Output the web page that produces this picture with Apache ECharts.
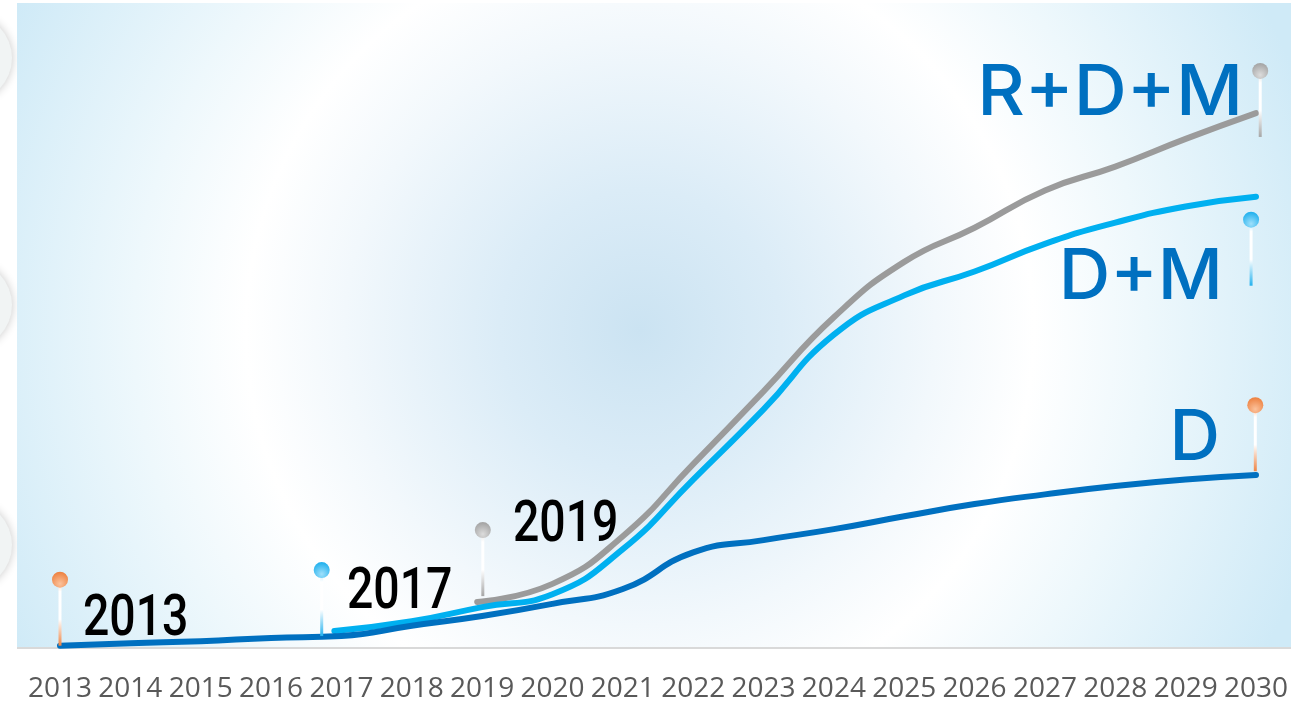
<!DOCTYPE html>
<html><head><meta charset="utf-8">
<script src="https://cdn.jsdelivr.net/npm/echarts@6/dist/echarts.min.js"></script>
<style>html,body{margin:0;padding:0;background:#fff;overflow:hidden}#c{width:1305px;height:703px}</style>
</head><body><div id="c"></div>
<script>
// ---- data ----
const years = [2013,2014,2015,2016,2017,2018,2019,2020,2021,2022,2023,2024,2025,2026,2027,2028,2029,2030];
const dValues = [0.2,0.6,0.9,1.4,1.7,3.3,4.8,6.7,9.0,14.7,16.6,18.3,20.3,22.2,23.7,25.0,26.0,26.7];
const dmYears = [2016.9,2018,2019,2020,2021,2022,2023,2024,2025,2026,2027,2028,2029,2030];
const dmValues = [2.5,4.0,6.2,8.2,15.2,26.0,36.9,48.5,54.6,58.3,62.6,65.9,68.4,69.9];
const rdmYears = [2018.93,2020,2021,2022,2023,2024,2025,2026,2027,2028,2029,2030];
const rdmValues = [7.0,9.8,17.2,28.4,39.7,51.2,59.8,65.1,70.9,74.6,78.9,82.9];
const pinYears = [2013,2016.72,2019.01,2030.06,2029.93,2029.99];
const pinValues = [0.2,1.7,7.9,79.2,56.1,27.3];
const pinKinds = ['orange','blue','gray','gray','blue','orange'];
const yearLabels = ['2013','2017','2019'];
const seriesLabels = ['R+D+M','D+M','D'];

// ---- styles ----
const pinColors = {
  orange: {main:'#ee8444', light:'#fbc29c'},
  blue:   {main:'#25b2ee', light:'#9fe0fb'},
  gray:   {main:'#a6a6a6', light:'#dcdcdc'}
};
const zip = (xs, ys) => xs.map((x,i)=>[x, ys[i]]);

const chart = echarts.init(document.getElementById('c'));
const bigNum = '500 58px Roboto, sans-serif';
const bigTxt = '500 70px Inter, "Open Sans", sans-serif';
function shadowCircle(cy){
  return {type:'circle', shape:{cx:-32, cy:cy, r:44}, style:{fill:'#f1f4f4', shadowBlur:10, shadowColor:'rgba(0,0,0,0.22)'}, z:-10};
}
function numText(txt, x, y){
  return {type:'text', x:x, y:y, scaleX:0.8, z:10, style:{text:txt, font:bigNum, fill:'#000', align:'left', verticalAlign:'middle'}};
}
function serText(txt, x, y, sx){
  return {type:'text', x:x, y:y, scaleX:sx, z:10, style:{text:txt, font:bigTxt, fill:'#0070c0', align:'right', verticalAlign:'middle'}};
}
chart.setOption({
  animation:false,
  graphic:[
    shadowCircle(58), shadowCircle(305), shadowCircle(545),
    {type:'rect', shape:{x:17,y:3,width:1274,height:645}, z:-5,
     style:{fill:{type:'radial', x:0.489, y:0.507, r:1.09, colorStops:[
       {offset:0, color:'#cbe3f2'},{offset:0.2, color:'#dbecf7'},{offset:0.42, color:'#f2f8fc'},
       {offset:0.56, color:'#ffffff'},{offset:0.72, color:'#eef8fc'},{offset:1, color:'#cfeaf7'}]}}},
    {type:'line', shape:{x1:17,y1:648,x2:1291,y2:648}, z:-4, style:{stroke:'#d9d9d9', lineWidth:2}},
    numText(yearLabels[0], 83, 620),
    numText(yearLabels[1], 347, 593),
    numText(yearLabels[2], 513, 526),
    serText(seriesLabels[0], 1243, 94, 1.05),
    serText(seriesLabels[1], 1223, 278, 1.02),
    serText(seriesLabels[2], 1220, 439, 1.0)
  ],
  grid:{left:60, right:49, top:3, bottom:55},
  xAxis:{type:'value', min:2013, max:2030, interval:1,
    axisLine:{show:false}, axisTick:{show:false}, splitLine:{show:false},
    axisLabel:{color:'#595959', fontSize:28, fontFamily:'"Open Sans", sans-serif', margin:28, formatter:v=>String(v)}},
  yAxis:{type:'value', min:0, max:100, show:false},
  series:[
    {name:'R+D+M', type:'line', data:zip(rdmYears, rdmValues), smooth:0.5, symbol:'none',
     lineStyle:{color:'#9b9b9b', width:6, cap:'round'}, z:3},
    {name:'D+M', type:'line', data:zip(dmYears, dmValues), smooth:0.5, symbol:'none',
     lineStyle:{color:'#00b0f0', width:6, cap:'round'}, z:4},
    {name:'D', type:'line', data:zip(years, dValues), smooth:0.5, symbol:'none',
     lineStyle:{color:'#0070c0', width:6, cap:'round'}, z:5},
    {type:'custom', z:6, clip:false,
     data: pinYears.map((x,i)=>[x, pinValues[i], i]),
     renderItem:function(params, api){
       const p = api.coord([api.value(0), api.value(1)]);
       const c = pinColors[pinKinds[api.value(2)]];
       const h = 66;
       return {type:'group', children:[
         {type:'rect', shape:{x:p[0]-1.5, y:p[1]-h, width:3, height:h},
          style:{fill:{type:'linear', x:0,y:0,x2:0,y2:1, colorStops:[
            {offset:0, color:c.light},{offset:0.18, color:'#ffffff'},{offset:0.6, color:'#ffffff'},{offset:1, color:c.main}]}}},
         {type:'circle', shape:{cx:p[0], cy:p[1]-h, r:8},
          style:{fill:{type:'radial', x:0.5, y:0.75, r:0.7, colorStops:[
            {offset:0, color:c.light},{offset:1, color:c.main}]}}}
       ]};
     }}
  ]
});
</script></body></html>
